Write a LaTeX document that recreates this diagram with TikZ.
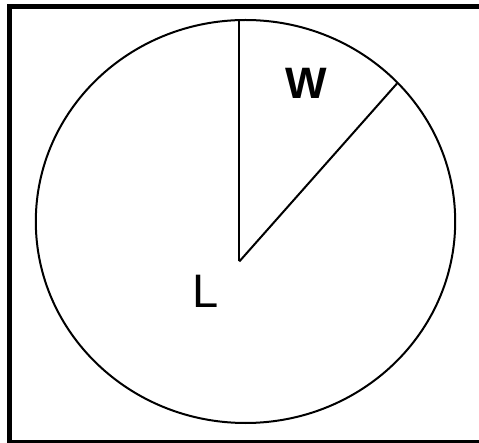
\documentclass[tikz,border=0pt]{standalone}
\usepackage{fontspec}
\setmainfont{Liberation Sans}
\usepackage{tikz}
\usetikzlibrary{positioning}
\tikzset{
  framebox/.style ={draw=black, line width=5pt},
  rimline/.style  ={draw=black, line width=2pt},
  spoke/.style    ={draw=black, line width=2pt},
  bigletter/.style={inner sep=0pt, font=\fontsize{47}{47}\selectfont},
}

\begin{document}
\begin{tikzpicture}[x=1pt,y=-1pt]
        \useasboundingbox (0,0) rectangle (479,443);
        \begin{scope}
          \clip (0,0) rectangle (479,443);
          \draw[framebox] (9.5,6.5) rectangle (490,442.5);
        \end{scope}

        \draw[rimline] (245.5,221.5) ellipse [x radius=209.7, y radius=201.5];

        \coordinate (hub) at (239.3,261.5);
        \coordinate (top) at (239.3,20.1);
        \coordinate (rim) at (397,83.5);

        \draw[spoke] (hub) -- (top);
        \draw[spoke] (hub) -- (rim);

        \node[bigletter,font=\fontsize{44}{44}\selectfont\bfseries] (w) at (306,83) {W};
        \node[bigletter] (l) at (206,291.5) {L};
      \end{tikzpicture}
\end{document}
